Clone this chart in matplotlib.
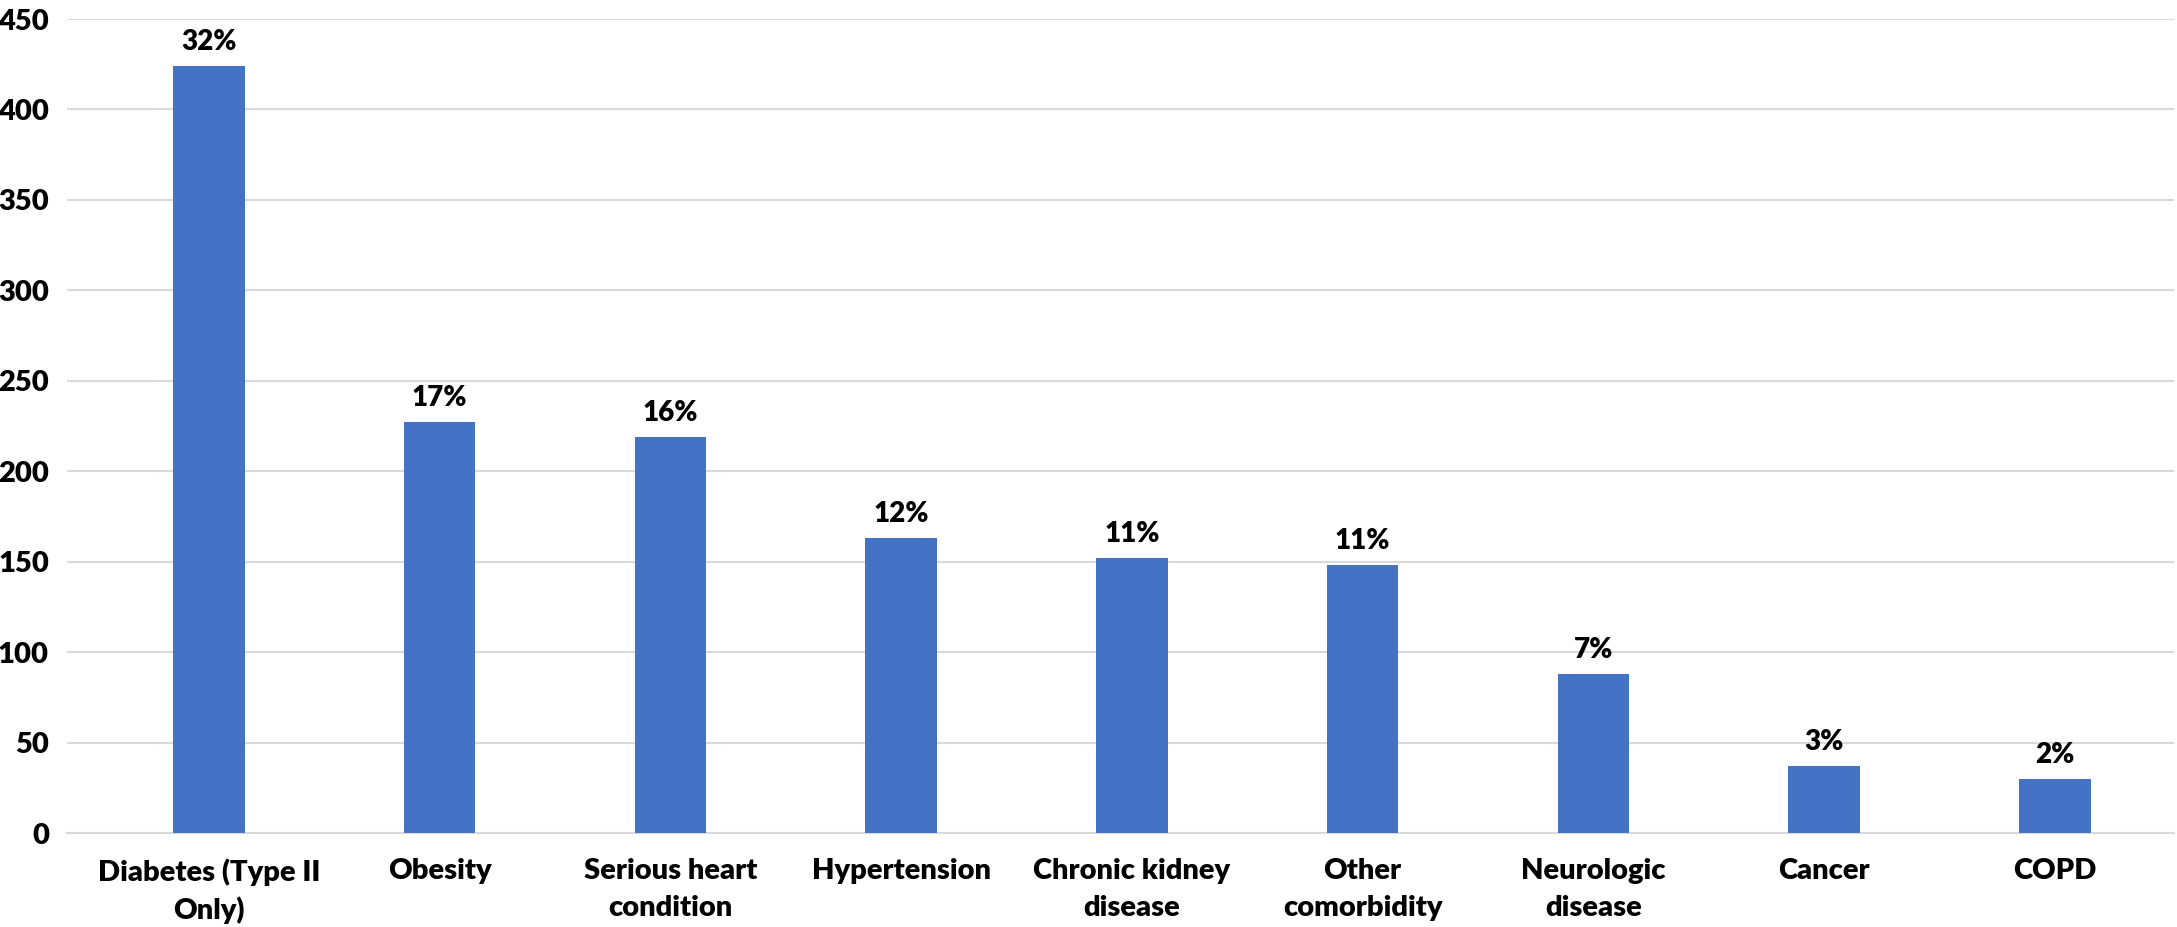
import matplotlib
matplotlib.use("Agg")
import matplotlib.pyplot as plt
import numpy as np

# data
categories = ["Diabetes (Type II\nOnly)", "Obesity", "Serious heart\ncondition",
              "Hypertension", "Chronic kidney\ndisease", "Other\ncomorbidity",
              "Neurologic\ndisease", "Cancer", "COPD"]
counts = [424, 227, 219, 163, 152, 148, 88, 37, 30]
pct_labels = ["32%", "17%", "16%", "12%", "11%", "11%", "7%", "3%", "2%"]
yticks = [0, 50, 100, 150, 200, 250, 300, 350, 400, 450]

plt.rcParams['font.family'] = ['Lato', 'DejaVu Sans']
plt.rcParams['font.weight'] = 'heavy'

fig = plt.figure(figsize=(21.77, 9.27), dpi=100)
ax = fig.add_axes([0.0308, 0.1014, 0.968, 0.8781])

x = np.arange(len(categories))
bars = ax.bar(x, counts, width=0.31, color='#4472C4', zorder=3)

for b, lab in zip(bars, pct_labels):
    ax.annotate(lab, (b.get_x() + b.get_width() / 2, b.get_height()),
                xytext=(0, 8), textcoords='offset points',
                ha='center', va='bottom', fontsize=20, fontweight='heavy')

ax.set_xlim(-0.614, len(categories) - 0.482)
ax.set_ylim(0, 450)
ax.set_yticks(yticks)
ax.set_yticklabels([str(t) for t in yticks], fontsize=21, fontweight='heavy')
ax.set_xticks(x)
ax.set_xticklabels(categories, fontsize=21, fontweight='heavy', linespacing=1.5)

ax.yaxis.grid(True, color='#d9d9d9', linewidth=1.5, zorder=0)
ax.tick_params(axis='both', length=0)
ax.tick_params(axis='y', pad=13)
ax.tick_params(axis='x', pad=18)
for s in ['top', 'right', 'left']:
    ax.spines[s].set_visible(False)
ax.spines['bottom'].set_color('#d9d9d9')
ax.spines['bottom'].set_linewidth(1.5)

fig.savefig('out.png', dpi=100)
